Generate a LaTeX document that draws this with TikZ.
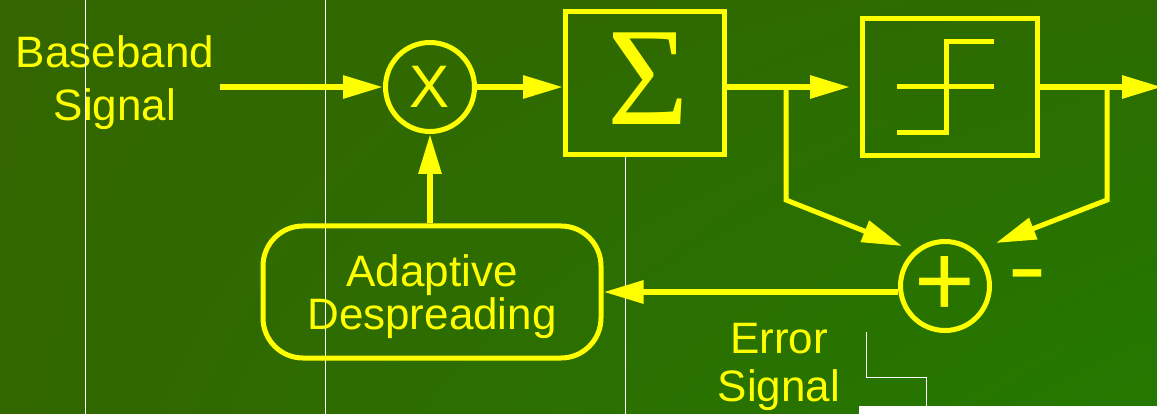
\documentclass[tikz,border=0pt]{standalone}
\usepackage{fontspec}
\setmainfont{Liberation Sans}
\newfontfamily\serifsym{Liberation Serif}
\usetikzlibrary{arrows.meta,positioning,shadings}
\definecolor{ffffqq}{rgb}{1.,1.,0.}
\definecolor{qqulqq}{HTML}{336600}
\definecolor{qqwlqq}{HTML}{2C6C00}
\definecolor{qqxlqq}{HTML}{326700}
\definecolor{qqzlqq}{HTML}{237900}
\begin{document}
\begin{tikzpicture}[line cap=butt,line join=miter,>={Triangle[length=40pt,width=22pt]},x=1pt,y=-1pt,
  blk/.style={draw=ffffqq,line width=5pt,text=ffffqq,inner sep=0pt},
  sig/.style={line width=6pt,color=ffffqq},
  lbl/.style={text=ffffqq,align=center,inner sep=0pt}]
\shade[upper left=qqulqq,upper right=qqwlqq,lower left=qqxlqq,lower right=qqzlqq] (0.,0.) rectangle (1157.,414.);
\useasboundingbox (0.,0.) rectangle (1157.,414.);
\node[lbl,font=\fontsize{44}{53}\selectfont] (bb) at (115.,83.) {Baseband\\Signal};
%\draw [color=white] (0.,0.) grid (1157.,414.);
\draw [line width=1pt,color=white] (85.,0.)-- (85.,414.);
\draw [line width=1pt,color=white] (325.,0.)-- (325.,414.);
\draw [line width=1pt,color=white] (625.,157.)-- (625.,414.);
\draw [line width=1pt,color=white] (866.,332.)-- (866.,377.)-- (926.,377.)-- (926.,406.);
\fill [color=white] (859.,406.) rectangle (1157.,414.);
% blocks
\node[blk,circle,minimum size=89pt,font=\fontsize{60}{60}\selectfont] (mul) at (430.,87.) {X};
\node[blk,minimum width=159pt,minimum height=143pt] (sum) at (645.,83.) {};
\node[lbl,font=\serifsym\fontsize{140}{140}\selectfont] (sgm) at (648.,79.) {Σ};
\node[blk,minimum width=175pt,minimum height=137pt] (stp) at (950.,87.) {};
\node[blk,circle,minimum size=89pt,font=\fontsize{104}{104}\selectfont] (add) at (945.,286.) {+};
\node[blk,rounded corners=40pt,minimum width=338pt,minimum height=132pt] (ads) at (432.,292.) {};
\node[lbl,font=\fontsize{44}{43}\selectfont] (adt) at (432.,297.) {Adaptive\\Despreading};
\node[lbl,font=\bfseries\fontsize{50}{50}\selectfont] (neg) at (1027.,282.) {\scalebox{1.15}[1.5]{–}};
\node[lbl,font=\fontsize{44}{48}\selectfont] (err) at (779.,367.) {Error\\Signal};
% step inside the limiter
\draw [line width=5pt,color=ffffqq] (897.,87.)-- (994.,87.);
\draw [line width=5pt,color=ffffqq] (897.,133.)-- (946.,133.)-- (946.,42.)-- (994.,42.);
% signal path
\coordinate (in) at (220.,87.);
\coordinate (out) at (1162.,87.);
\coordinate (tl) at (786.,87.);
\coordinate (tlb) at (786.,200.);
\coordinate (sl) at (902.,246.);
\coordinate (tr) at (1107.,87.);
\coordinate (trb) at (1107.,200.);
\coordinate (sr) at (996.,243.);
\draw [sig,->] (in)-- (mul.west);
\draw [sig,->] (mul.east)-- (mul.east -| sum.west);
\draw [sig,->] (sum.east |- stp)-- ([xshift=-10pt]stp.west);
\draw [sig,->] (stp.east)-- (out);
\draw [sig,line width=5pt,->] (tl)-- (tlb)-- (sl);
\draw [sig,line width=5pt,->] (tr)-- (trb)-- (sr);
\draw [sig,->] (add.west |- ads)-- (ads.east);
\draw [sig,->] (ads.north -| mul)-- (mul.south);
\end{tikzpicture}
\end{document}
